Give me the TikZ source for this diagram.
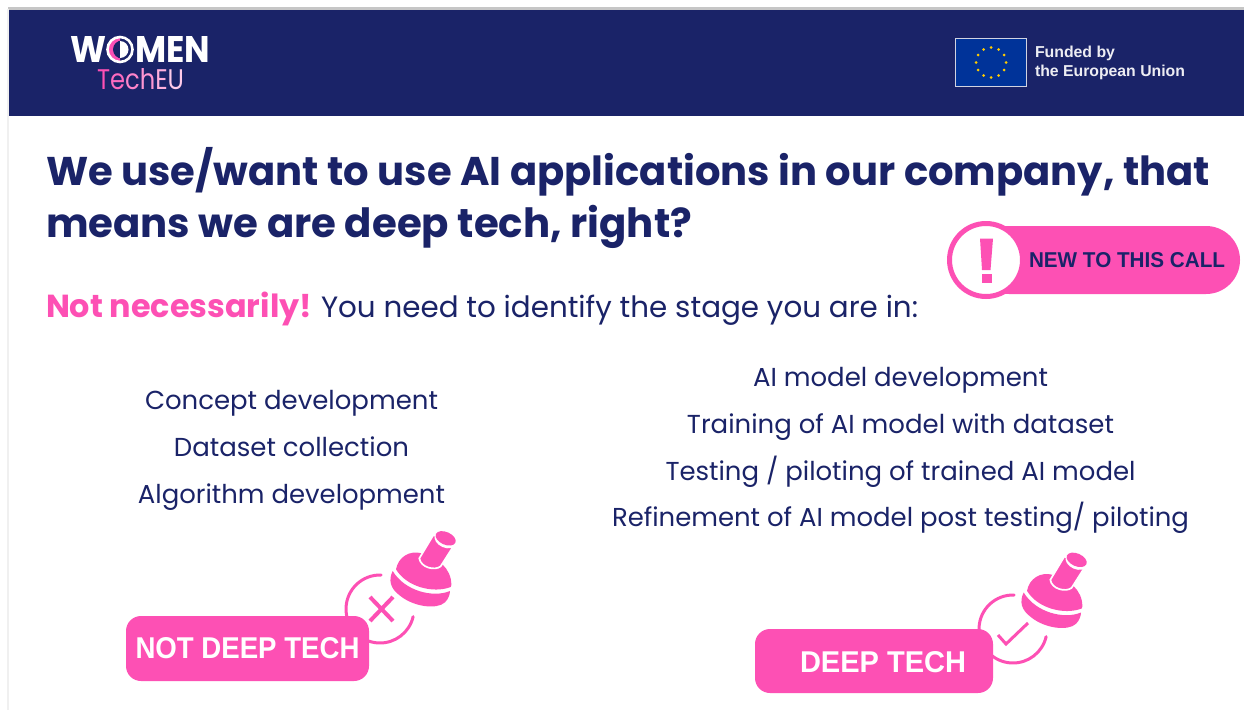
\documentclass[tikz,border=0pt]{standalone}
\usepackage{graphicx}
\usepackage{fontspec}
\usetikzlibrary{shapes.geometric,calc}
\setmainfont{Poppins}
\newfontfamily\headfont{Poppins}
\newfontfamily\btnfont{Liberation Sans}
\newfontfamily\eufont{Liberation Sans}
\definecolor{navy}{HTML}{1A2368}
\definecolor{hotpink}{HTML}{FD50B4}
\definecolor{eublue}{HTML}{003399}
\definecolor{eustar}{HTML}{FFCC00}
\newcommand{\fitw}[2]{\resizebox{#1pt}{!}{#2}}
\newcommand{\fitwh}[3]{\resizebox{#1pt}{#2pt}{#3}}
\newcommand{\pinicon}[2]{%
  \begin{scope}[shift={(#1,#2)},x=0.3333pt,y=-0.3333pt]
    % head, upper part
    \fill[hotpink] (48,133) .. controls (55,95) and (90,75) .. (125,85)
       .. controls (170,95) and (215,130) .. (214,180)
       -- (212,186) .. controls (160,206) and (80,186) .. (48,133) -- cycle;
    % head, lower crescent
    \fill[hotpink] (38,138) .. controls (25,165) and (30,190) .. (60,212)
       .. controls (100,245) and (170,255) .. (195,232)
       .. controls (205,222) and (210,208) .. (210,198)
       .. controls (160,219) and (75,199) .. (38,138) -- cycle;
    % shaft
    \filldraw[fill=hotpink,draw=white,line width=1.7pt] (118,100) -- (160,30) -- (224,58) -- (182,124)
       .. controls (165,138) and (122,128) .. (118,100) -- cycle;
    % cap
    \fill[white,shift={(197,44)},rotate=-24] (0,0) ellipse (35 and 24);
    \fill[hotpink,shift={(197,40)},rotate=-24] (0,0) ellipse (32 and 19);
  \end{scope}}
\tikzset{
  x=1pt,y=-1pt,
  txt/.style={anchor=base west,inner sep=0pt,outer sep=0pt},
  ctr/.style={anchor=base,inner sep=0pt,outer sep=0pt,text=navy,font=\fontsize{27}{30}\selectfont},
  pinkbox/.style={fill=hotpink,draw=none,rounded corners=15pt},
  ringarc/.style={draw=hotpink,line width=3pt,line cap=round}
}
\begin{document}
\begin{tikzpicture}
\useasboundingbox (0,0) rectangle (1244,710);
\fill[white] (0,0) rectangle (1244,710);
% page edges and header band
\fill[gray!45] (8,7) rectangle (1244,9.5);
\fill[gray!12] (7,9) rectangle (8.5,710);
\fill[navy] (8.5,9.5) rectangle (1244,115.5);
% logo
\node[txt,text=white,font=\bfseries\fontsize{37}{37}\selectfont] (logoW) at (70,62) {\fitwh{36}{26}{W}};
\node[txt,text=white,font=\bfseries\fontsize{37}{37}\selectfont] (logoMEN) at (135,62) {\fitwh{75}{26}{MEN}};
\fill[hotpink] (120,37) arc[start angle=-90,end angle=-270,radius=12.5] -- cycle;
\fill[navy] (122,49.5) circle (9);
\fill[white] (120,41) arc[start angle=-90,end angle=90,radius=8.5] -- cycle;
\draw[white,line width=2.6pt] (120,49.5) circle (12.5);
\node[txt,font=\fontsize{25}{25}\selectfont] (logoT) at (97,89)
  {\fitwh{87}{21}{\textcolor{hotpink}{T}\textcolor{hotpink!85!white}{e}\textcolor{hotpink!70!white}{c}\textcolor{hotpink!60!white}{h}\textcolor{hotpink!45!white}{E}\textcolor{hotpink!30!white}{U}}};
% EU flag
\node[draw=white!80!navy,line width=1.4pt,fill=eublue,minimum width=71pt,minimum height=48pt,inner sep=0pt] (flag) at (991,62.5) {};
\foreach \a in {0,30,...,330}{
  \node[circle,fill=eustar,draw=none,inner sep=0pt,minimum size=3pt] (s\a) at ($(flag.center)+(\a:15)$) {};
}
\node[txt,text=white!92!navy,font=\eufont\bfseries\fontsize{15}{15}\selectfont] (fund1) at (1035,57) {\fitw{80}{Funded by}};
\node[txt,text=white!92!navy,font=\eufont\bfseries\fontsize{15}{15}\selectfont] (fund2) at (1035,76) {\fitw{150}{the European Union}};
% heading
\node[txt,text=navy,font=\headfont\bfseries\fontsize{43}{43}\selectfont] (h1) at (46,185.5) {\fitw{1164}{We use/want to use AI applications in our company, that}};
\node[txt,text=navy,font=\headfont\bfseries\fontsize{43}{43}\selectfont] (h2) at (46,237.5) {\fitw{646}{means we are deep tech, right?}};
% new to this call
\fill[hotpink,rounded corners=34pt] (975,226) rectangle (1240,294);
\node[circle,fill=white,draw=hotpink,line width=5pt,minimum size=73pt,inner sep=0pt] (warn) at (986,260) {};
\fill[hotpink] (980,238.5) -- (993,238.5) -- (990.5,270) -- (982,270) -- cycle;
\fill[hotpink] (981.5,274) rectangle (991.5,282.5);
\node[txt,text=navy,font=\btnfont\bfseries\fontsize{24}{24}\selectfont] (newcall) at (1029,267.5) {\fitwh{196}{15}{NEW TO THIS CALL}};
% subtitle
\node[txt,text=hotpink,font=\bfseries\fontsize{32}{32}\selectfont] (no) at (46,317) {\fitw{266}{Not necessarily!}};
\node[txt,text=navy,font=\fontsize{29}{29}\selectfont] (need) at (321,317) {\fitw{597}{You need to identify the stage you are in:}};
% left list
\node[ctr] (l1) at (291.5,409) {\fitw{293}{Concept development}};
\node[ctr] (l2) at (291.5,456) {\fitw{235}{Dataset collection}};
\node[ctr] (l3) at (291.5,503) {\fitw{307}{Algorithm development}};
% right list
\node[ctr] (r1) at (900.5,386) {\fitw{295}{AI model development}};
\node[ctr] (r2) at (900.5,433) {\fitw{427}{Training of AI model with dataset}};
\node[ctr] (r3) at (900.5,480) {\fitw{470}{Testing / piloting of trained AI model}};
\node[ctr] (r4) at (900.5,526) {\fitw{577}{Refinement of AI model post testing/ piloting}};
% not deep tech icon
\coordinate (c1) at (380,609);
\draw[ringarc] ($(c1)+(-88:34)$) arc[start angle=-88,end angle=-347,radius=34];
\draw[hotpink,line width=4pt] ($(c1)+(-10,-12)$) -- ($(c1)+(13,12)$) ($(c1)+(13,-12)$) -- ($(c1)+(-10,12)$);
\pinicon{380}{525}
\node[pinkbox,minimum width=243pt,minimum height=65pt,inner sep=0pt] (nd) at (247.5,648.5) {};
\node[txt,text=white,font=\btnfont\bfseries\fontsize{30}{30}\selectfont] (ndt) at (135.5,658) {\fitwh{224}{21}{NOT DEEP TECH}};
% deep tech icon
\coordinate (c2) at (1013,629);
\draw[ringarc] ($(c2)+(-88:34)$) arc[start angle=-88,end angle=-347,radius=34];
\draw[hotpink,line width=3pt] (998,635) -- (1006,644) -- (1028,623);
\pinicon{1011}{546.5}
\node[pinkbox,minimum width=238pt,minimum height=64pt,inner sep=0pt] (dt) at (874,661) {};
\node[txt,text=white,font=\btnfont\bfseries\fontsize{30}{30}\selectfont] (dtt) at (800,672) {\fitwh{166}{21}{DEEP TECH}};
\end{tikzpicture}
\end{document}
